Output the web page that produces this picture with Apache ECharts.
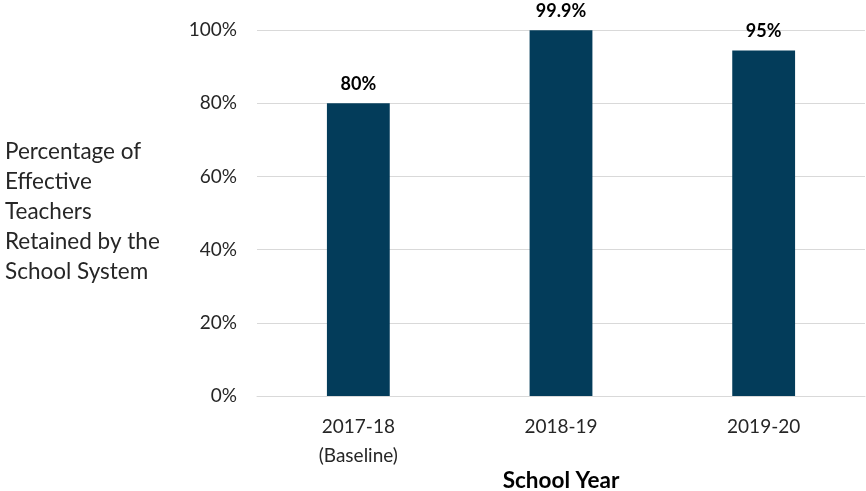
<!DOCTYPE html>
<html>
<head>
<meta charset="utf-8">
<script src="https://cdn.jsdelivr.net/npm/echarts@6/dist/echarts.min.js"></script>
<style>
  html, body { margin: 0; padding: 0; background: #fff; }
  #chart { width: 866px; height: 491px; }
</style>
</head>
<body>
<div id="chart"></div>
<script>
(() => {
    'use strict'

    const years = ['2017-18\n(Baseline)', '2018-19', '2019-20']
    const retained = [80, 99.9, 94.4]
    const valueLabels = ['80%', '99.9%', '95%']
    const yTicks = [0, 20, 40, 60, 80, 100]

    const font = 'Lato, "Open Sans", sans-serif'
    const textColor = '#262626'

    const chart = echarts.init(document.getElementById('chart'))

    const options = {
        animation: false,
        backgroundColor: '#fff',
        title: {
            text: 'Percentage of\nEffective\nTeachers\nRetained by the\nSchool System',
            left: 0,
            top: 132,
            textStyle: {
                fontFamily: font,
                fontSize: 22.5,
                fontWeight: 'normal',
                color: textColor,
                lineHeight: 30
            }
        },
        grid: {
            left: 257,
            right: 1,
            top: 30,
            bottom: 95,
            outerBoundsMode: 'none'
        },
        xAxis: {
            type: 'category',
            data: years,
            name: 'School Year',
            nameLocation: 'middle',
            nameMoveOverlap: false,
            nameGap: 73,
            nameTextStyle: {
                fontFamily: font,
                fontSize: 22.5,
                fontWeight: 'bold',
                color: '#000'
            },
            axisTick: {show: false},
            axisLine: {lineStyle: {color: '#d9d9d9', width: 1}},
            axisLabel: {
                fontFamily: font,
                fontSize: 19,
                color: textColor,
                lineHeight: 29,
                margin: 16
            }
        },
        yAxis: {
            type: 'value',
            min: yTicks[0],
            max: yTicks[yTicks.length - 1],
            interval: 20,
            axisLine: {show: false},
            axisTick: {show: false},
            splitLine: {lineStyle: {color: '#d9d9d9', width: 1}},
            axisLabel: {
                fontFamily: font,
                fontSize: 19,
                color: textColor,
                margin: 20,
                formatter: value => value + '%'
            }
        },
        series: [{
            type: 'bar',
            data: retained,
            barWidth: '31%',
            itemStyle: {color: '#033c5a'},
            label: {
                show: true,
                position: 'top',
                distance: 10,
                fontFamily: font,
                fontSize: 18,
                fontWeight: 'bold',
                color: '#000',
                formatter: params => valueLabels[params.dataIndex]
            }
        }]
    }

    chart.setOption(options)
})()
</script>
</body>
</html>
